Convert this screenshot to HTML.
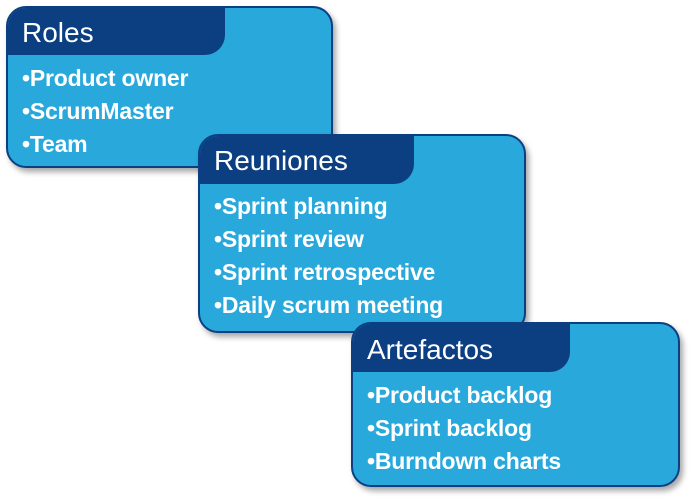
<!DOCTYPE html>
<html><head><meta charset="utf-8"><style>
body{margin:0;width:691px;height:499px;background:#fff;position:relative;overflow:hidden;font-family:"Liberation Sans",sans-serif;}
.box{position:absolute;background:#29a8dc;border:2px solid #0b3f82;border-radius:20px;box-shadow:3px 4px 6px rgba(0,0,0,0.35);overflow:hidden;box-sizing:border-box;}
.tab{position:absolute;left:0;top:0;background:#0b3f82;border-bottom-right-radius:20px;color:#fff;font-size:28px;box-sizing:border-box;padding-left:14px;}
.it{position:absolute;left:14px;color:#fff;font-size:23px;font-weight:bold;line-height:33px;white-space:nowrap;letter-spacing:-0.2px;}
</style></head><body>
<div class="box" style="left:6px;top:6px;width:327px;height:162px;">
 <div class="tab" style="width:217px;height:47px;line-height:50px;">Roles</div>
 <div class="it" style="top:54px;">•Product owner<br>•ScrumMaster<br>•Team</div>
</div>
<div class="box" style="left:198px;top:134px;width:328px;height:199px;">
 <div class="tab" style="width:214px;height:48px;line-height:50px;">Reuniones</div>
 <div class="it" style="top:54px;">•Sprint planning<br>•Sprint review<br>•Sprint retrospective<br>•Daily scrum meeting</div>
</div>
<div class="box" style="left:351px;top:322px;width:329px;height:165px;">
 <div class="tab" style="width:217px;height:48px;line-height:52px;">Artefactos</div>
 <div class="it" style="top:55px;">•Product backlog<br>•Sprint backlog<br>•Burndown charts</div>
</div>
</body></html>
